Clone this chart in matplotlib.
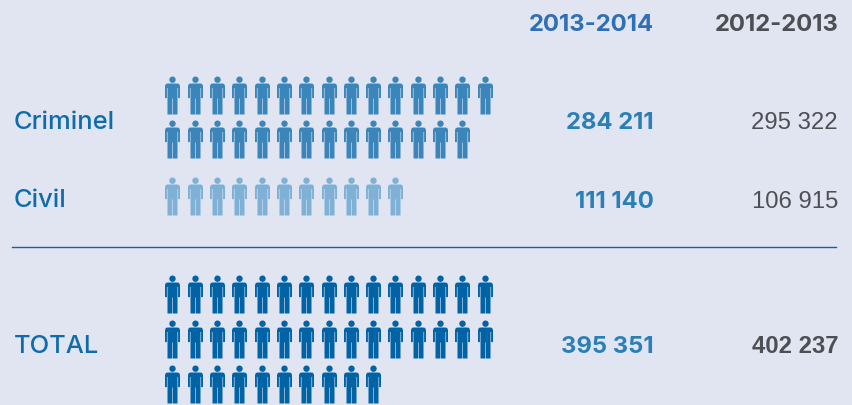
import matplotlib
matplotlib.use('Agg')
import matplotlib.pyplot as plt
from matplotlib.path import Path

# one icon stands for 10 000 cases
categories = ['Criminel', 'Civil', 'TOTAL']
icon_counts = [29, 11, 40]
values_2014 = ['284 211', '111 140', '395 351']
values_2013 = ['295 322', '106 915', '402 237']
header_2014 = '2013-2014'
header_2013 = '2012-2013'

BG = '#E1E5F2'
ICON_COLORS = ['#3A85B9', '#7FB0D5', '#0063A6']
PER_ROW = 15
X_FIRST = 172.4
X_STEP = 22.3
ROW_STEP = [44, 44, 45]
FIRST_ROW_Y = [95.7, 196.5, 295]
LABEL_Y = [129, 207, 353]
VALUE_Y = [129, 208, 353]


def person_marker():
    """Little man drawn around (0, 0), y up, about 38 px high."""
    right = [
        (4.6, 12.0), (6.6, 11.6), (7.5, 9.5), (7.5, -2.6), (5.6, -2.6),
        (5.6, 7.5), (5.0, 7.5), (5.0, -19.0), (0.3, -19.0), (0.3, -3.0),
    ]
    left = [(-x, y) for x, y in reversed(right)]
    body = Path(right + left + [right[0]], closed=True)
    head = Path.circle((0, 15.8), 3.2)
    return Path.make_compound_path(body, head)


plt.rcParams['font.family'] = ['Liberation Sans', 'DejaVu Sans']
fig = plt.figure(figsize=(8.52, 4.06), dpi=100, facecolor=BG)
ax = fig.add_axes([0, 0, 1, 1])
ax.set_xlim(0, 852)
ax.set_ylim(406, 0)
ax.axis('off')

marker = person_marker()
size = 38 * 72 / 100
for n, count in enumerate(icon_counts):
    xs = [X_FIRST + (i % PER_ROW) * X_STEP for i in range(count)]
    ys = [FIRST_ROW_Y[n] + (i // PER_ROW) * ROW_STEP[n] for i in range(count)]
    ax.plot(xs, ys, ls='none', marker=marker, ms=size, mew=0,
            color=ICON_COLORS[n])

ax.text(654, 31, header_2014, ha='right', va='baseline', family='Inter',
        fontsize=17.2, fontweight='bold', color='#2F6FB3')
ax.text(839, 31, header_2013, ha='right', va='baseline', family='Inter',
        fontsize=17.2, fontweight='bold', color='#4D4F53')

for n, cat in enumerate(categories):
    ax.text(14, LABEL_Y[n], cat, ha='left', va='baseline',
            family='Inter', fontsize=18.4, fontweight='medium',
            color='#0F6CAB')
    ax.text(654, VALUE_Y[n], values_2014[n], ha='right', va='baseline',
            family='Inter', fontsize=17.2, fontweight='bold', color='#2A7FB5')
    ax.text(838, VALUE_Y[n], values_2013[n], ha='right', va='baseline',
            fontsize=17.2, fontweight='bold' if n == 2 else 'normal',
            color='#4D4F53')

ax.plot([12, 836], [247.5, 247.5], color='#1F5E9C', lw=1)

fig.savefig('out.png', dpi=100, facecolor=BG)
